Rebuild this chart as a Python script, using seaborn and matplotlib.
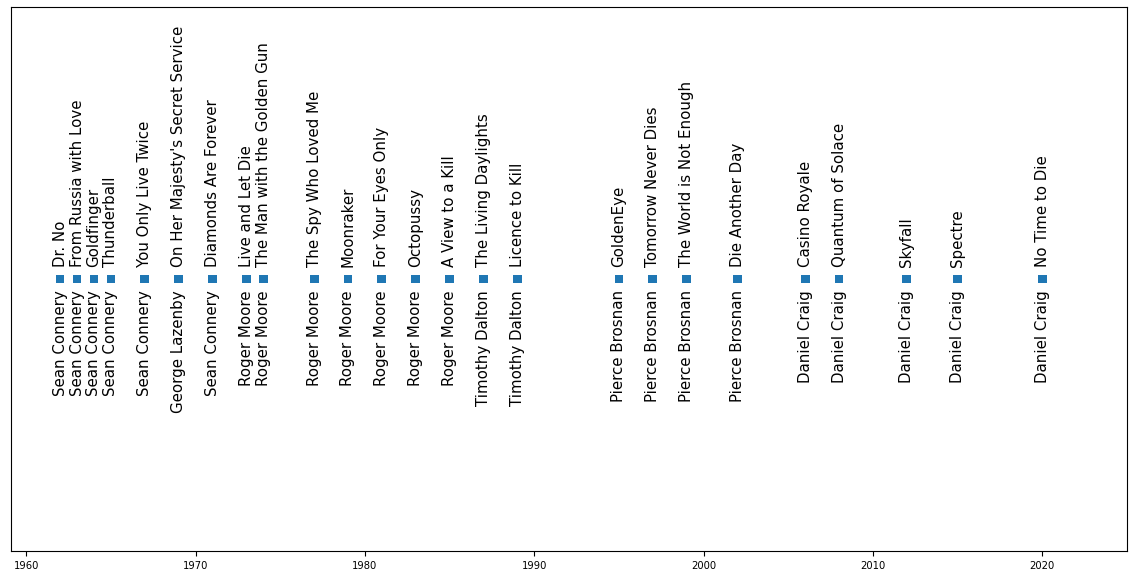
import numpy as np
import pandas as pd
import matplotlib.pyplot as plt
import seaborn as sns

years = [1962, 1963, 1964, 1965, 1967, 1969, 1971, 1973, 1974, 1977, 1979, 1981,
         1983, 1985, 1987, 1989, 1995, 1997, 1999, 2002, 2006, 2008, 2012, 2015, 2020]
titles = ["Dr. No", "From Russia with Love", "Goldfinger", "Thunderball",
          "You Only Live Twice", "On Her Majesty's Secret Service",
          "Diamonds Are Forever", "Live and Let Die", "The Man with the Golden Gun",
          "The Spy Who Loved Me", "Moonraker", "For Your Eyes Only", "Octopussy",
          "A View to a Kill", "The Living Daylights", "Licence to Kill", "GoldenEye",
          "Tomorrow Never Dies", "The World is Not Enough", "Die Another Day",
          "Casino Royale", "Quantum of Solace", "Skyfall", "Spectre", "No Time to Die"]
actors = ["Sean Connery"] * 5 + ["George Lazenby", "Sean Connery"] + ["Roger Moore"] * 7 \
    + ["Timothy Dalton"] * 2 + ["Pierce Brosnan"] * 4 + ["Daniel Craig"] * 5

df = pd.DataFrame({"year": years, "title": titles, "actor": actors, "y": 0})

fig, ax = plt.subplots(figsize=(11.33, 5.75), dpi=100)
sns.scatterplot(data=df, x="year", y="y", marker="s", s=40, color="#1f77b4",
                edgecolor="none", ax=ax, zorder=3)

for _, row in df.iterrows():
    ax.annotate(row["title"], (row["year"], 0), xytext=(0, 12), textcoords="offset pixels",
                rotation=90, ha="center", va="bottom", fontsize=10.8)
    ax.annotate(row["actor"], (row["year"], 0), xytext=(0, -11), textcoords="offset pixels",
                rotation=90, ha="center", va="top", fontsize=10.8)

ax.set_xlim(1959.1, 2025)
ax.set_ylim(-1, 1)
ax.set_yticks([])
ax.set_xlabel("")
ax.set_ylabel("")
ax.tick_params(axis="x", labelsize=7.2)
fig.subplots_adjust(left=0.0097, right=0.9947, bottom=0.0417, top=0.9878)
fig.savefig("out.png", dpi=100)
